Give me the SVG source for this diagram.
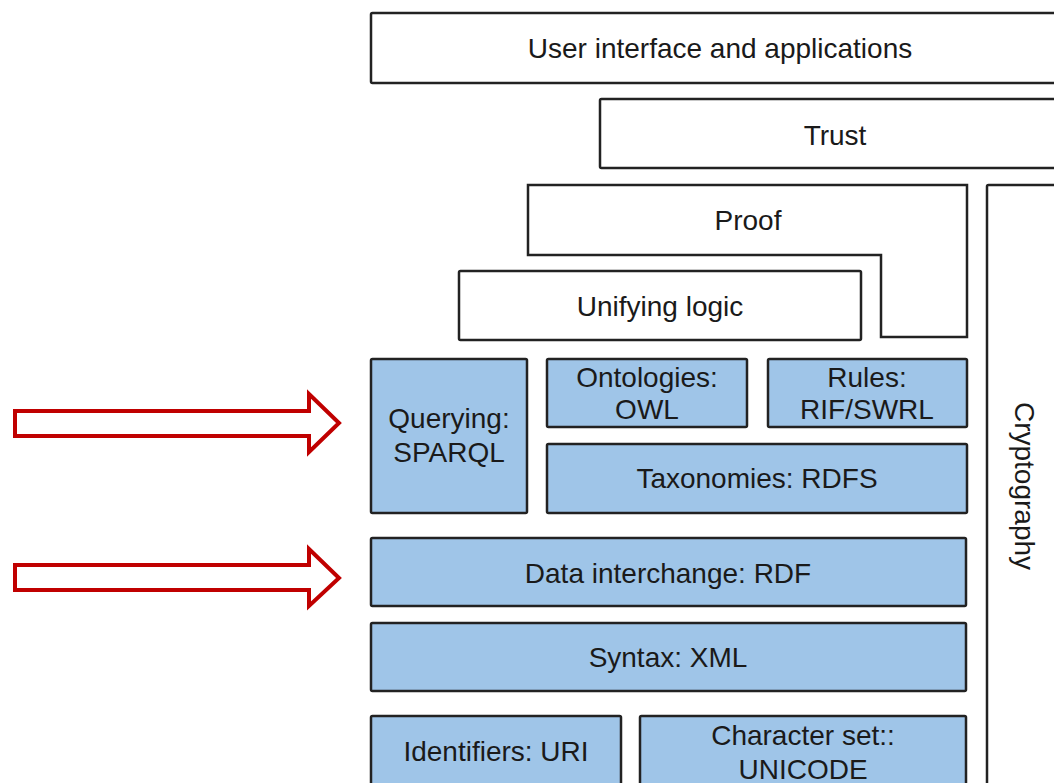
<svg xmlns="http://www.w3.org/2000/svg" width="1054" height="783" viewBox="0 0 1054 783">
<style>
.w{fill:#ffffff;stroke:#222222;stroke-width:2.5}
.b{fill:#9fc5e8;stroke:#222222;stroke-width:2.5}
text{font-family:"Liberation Sans",Arial,sans-serif;font-size:28px;fill:#1a1a1a;text-anchor:middle}
.arr{fill:#ffffff;stroke:#c00000;stroke-width:4}
</style>
<rect width="1054" height="783" fill="#ffffff"/>
<g id="ui"><rect class="w" x="371" y="13" width="700" height="70" rx="1.5"/><text x="720" y="58">User interface and applications</text></g>
<g id="trust"><rect class="w" x="600" y="99" width="470" height="69" rx="1.5"/><text x="835" y="145">Trust</text></g>
<g id="proof"><path class="w" d="M528,185 H967 V337 H881 V255 H528 Z"/><text x="748" y="230">Proof</text></g>
<g id="logic"><rect class="w" x="459" y="271" width="402" height="69" rx="1.5"/><text x="660" y="316">Unifying logic</text></g>
<g id="crypto"><rect class="w" x="987" y="185" width="90" height="620" rx="1.5"/><text transform="translate(1015,486) rotate(90)">Cryptography</text></g>
<g id="querying"><rect class="b" x="371" y="359" width="156" height="154" rx="1.5"/><text x="449" y="428">Querying:</text><text x="449" y="462">SPARQL</text></g>
<g id="ontologies"><rect class="b" x="547" y="359" width="200" height="68" rx="1.5"/><text x="647" y="387">Ontologies:</text><text x="647" y="419">OWL</text></g>
<g id="rules"><rect class="b" x="768" y="359" width="199" height="68" rx="1.5"/><text x="867" y="387">Rules:</text><text x="867" y="419">RIF/SWRL</text></g>
<g id="taxonomies"><rect class="b" x="547" y="444" width="420" height="69" rx="1.5"/><text x="757" y="488">Taxonomies: RDFS</text></g>
<g id="rdf"><rect class="b" x="371" y="538" width="595" height="68" rx="1.5"/><text x="668" y="583">Data interchange: RDF</text></g>
<g id="xml"><rect class="b" x="371" y="623" width="595" height="68" rx="1.5"/><text x="668" y="667">Syntax: XML</text></g>
<g id="uri"><rect class="b" x="371" y="716" width="250" height="90" rx="1.5"/><text x="496" y="761">Identifiers: URI</text></g>
<g id="unicode"><rect class="b" x="640" y="716" width="326" height="90" rx="1.5"/><text x="803" y="745">Character set::</text><text x="803" y="779">UNICODE</text></g>
<g id="connectors">
<path class="arr" d="M15,411 H309 V394 L339,423 L309,452 V436 H15 Z"/>
<path class="arr" d="M15,565 H309 V549 L339,578 L309,606 V590 H15 Z"/>
</g>
</svg>
